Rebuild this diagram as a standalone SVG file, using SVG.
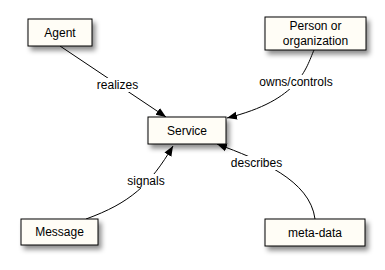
<svg xmlns="http://www.w3.org/2000/svg" width="385" height="270" viewBox="0 0 385 270">
<style>
.box{fill:#fffdf6;stroke:#000;stroke-width:1;filter:url(#sh)}
.t{font-family:"Liberation Sans",Arial,sans-serif;font-size:12px;fill:#000;text-anchor:middle}
.c{fill:none;stroke:#000;stroke-width:1;marker-end:url(#ah)}
.lb{fill:#fff}
</style>
<defs>
<filter id="sh" x="-20%" y="-30%" width="150%" height="180%">
<feDropShadow dx="3" dy="4" stdDeviation="2.5" flood-color="#000" flood-opacity="0.45"/>
</filter>
<marker id="ah" viewBox="0 0 10 10" refX="10" refY="5" markerWidth="10" markerHeight="10" markerUnits="userSpaceOnUse" orient="auto">
<path d="M0,1 L10,5 L0,9 Z" fill="#000"/>
</marker>
</defs>
<g id="connectors">
<path class="c" d="M60,46 L166,117"/>
<path class="c" d="M314,50 C306,68 300,100 227,118"/>
<path class="c" d="M86,219 C130,203 150,185 173,146"/>
<path class="c" d="M315,219 C310,180 260,160 217,144"/>
<rect class="lb" x="96" y="78" width="43" height="14"/>
<text class="t" x="117.5" y="89">realizes</text>
<rect class="lb" x="258" y="75" width="76" height="14"/>
<text class="t" x="296" y="86">owns/controls</text>
<rect class="lb" x="127" y="174" width="38" height="14"/>
<text class="t" x="146" y="185">signals</text>
<rect class="lb" x="230" y="156" width="53" height="14"/>
<text class="t" x="256.5" y="167">describes</text>
</g>
<g id="agent">
<rect class="box" x="28" y="19" width="64" height="27"/>
<text class="t" x="60" y="37">Agent</text>
</g>
<g id="person">
<rect class="box" x="265" y="17" width="101" height="33"/>
<text class="t" x="315.5" y="30">Person or</text>
<text class="t" x="315.5" y="45">organization</text>
</g>
<g id="service">
<rect class="box" x="148" y="117" width="78" height="27"/>
<text class="t" x="187" y="135">Service</text>
</g>
<g id="message">
<rect class="box" x="21" y="219" width="77" height="26"/>
<text class="t" x="59.5" y="236">Message</text>
</g>
<g id="metadata">
<rect class="box" x="265" y="219" width="100" height="27"/>
<text class="t" x="315" y="237">meta-data</text>
</g>
</svg>
